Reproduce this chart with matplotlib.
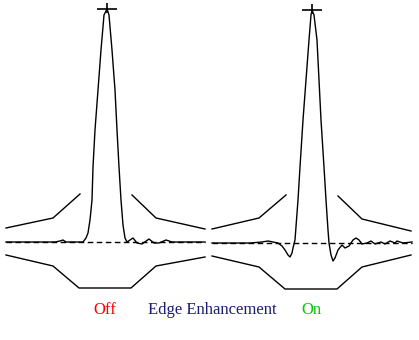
import matplotlib.pyplot as plt

# profile points (pixel units, y grows downwards)
off_x = [6, 40, 55, 60, 63, 66, 75, 83, 86, 88, 90, 92, 93, 95, 98, 101, 104, 107,
         109, 112, 115, 117, 119, 121, 123, 125, 127, 133, 137, 142, 149, 154, 159,
         166, 172, 205]
off_y = [242, 242, 242, 241, 240, 242, 242, 242, 238, 233, 220, 200, 167, 130, 90,
         50, 15, 9, 15, 50, 90, 130, 167, 200, 225, 238, 242, 238, 243, 244, 239,
         243, 243, 240, 242, 242]

on_x = [212, 250, 262, 268, 273, 278, 282, 285, 288, 290, 292, 293, 295, 298, 300,
        303, 306, 309, 311, 312, 314, 317, 319, 321, 324, 326, 328, 329, 331, 333,
        335, 338, 342, 345, 349, 353, 356, 359, 362, 367, 371, 375, 381, 385, 390,
        395, 397, 403, 412]
on_y = [243, 243, 242, 241, 242, 243, 246, 250, 255, 257, 253, 248, 240, 200, 167,
        120, 80, 40, 15, 10, 15, 40, 80, 120, 167, 200, 230, 243, 255, 261, 258,
        250, 245, 248, 246, 240, 238, 240, 244, 243, 241, 244, 242, 244, 241, 243,
        241, 243, 242]

# envelope lines (upper left, upper right, lower) for each panel
env_off_ul_x = [6, 53, 80]
env_off_ul_y = [228, 218, 194]
env_off_ur_x = [132, 156, 205]
env_off_ur_y = [195, 218, 229]
env_off_lo_x = [6, 53, 79, 131, 156, 205]
env_off_lo_y = [255, 266, 288, 288, 266, 257]

env_on_ul_x = [212, 259, 286]
env_on_ul_y = [229, 218, 195]
env_on_ur_x = [338, 362, 411]
env_on_ur_y = [196, 219, 231]
env_on_lo_x = [212, 259, 285, 337, 362, 411]
env_on_lo_y = [256, 267, 289, 289, 267, 255]

# baselines and peak markers
base_off = (6, 205, 242)
base_on = (212, 412, 243)
peak_off = (107, 9)
peak_on = (312, 10)

fig = plt.figure(figsize=(4.19, 3.40), dpi=100)
ax = fig.add_axes([0, 0, 1, 1])
ax.set_xlim(0, 419)
ax.set_ylim(340, 0)
ax.axis('off')

lw = 1.0
for ex, ey in [(env_off_ul_x, env_off_ul_y), (env_off_ur_x, env_off_ur_y),
               (env_off_lo_x, env_off_lo_y), (env_on_ul_x, env_on_ul_y),
               (env_on_ur_x, env_on_ur_y), (env_on_lo_x, env_on_lo_y)]:
    ax.plot(ex, ey, color='black', lw=lw)

ax.plot(off_x, off_y, color='black', lw=lw)
ax.plot(on_x, on_y, color='black', lw=lw)

for b in [base_off, base_on]:
    ax.plot([b[0], b[1]], [b[2], b[2]], color='black', lw=lw, dashes=(4, 2.5))

for p in [peak_off, peak_on]:
    ax.plot([p[0]], [p[1]], marker='_', color='black', markersize=14.5, mew=1.2)
    ax.plot([p[0]], [p[1] - 1], marker='|', color='black', markersize=7, mew=1.2)

ax.text(104.5, 310, 'Off', color='#ff0000', fontsize=12, family='Liberation Serif',
        ha='center', va='center')
ax.text(212, 310, 'Edge Enhancement', color='#1c1c78', fontsize=12,
        family='Liberation Serif', ha='center', va='center')
ax.text(311, 310, 'On', color='#00cc00', fontsize=12, family='Liberation Serif',
        ha='center', va='center')

fig.savefig('out.png', dpi=100)
